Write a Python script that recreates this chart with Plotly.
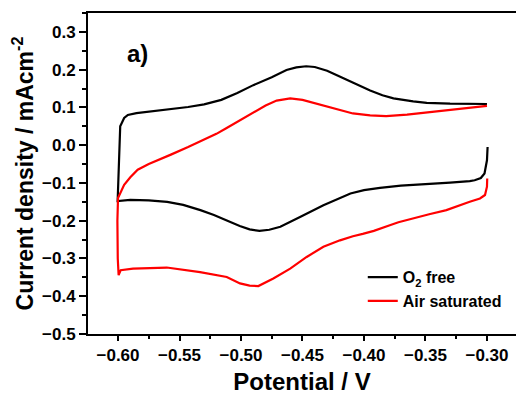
import plotly.graph_objects as go

# O2 free: cathodic branch (-0.30 -> -0.60) then anodic branch (-0.60 -> -0.30)
o2_lower_x = [-0.2995, -0.3000, -0.3020, -0.3050, -0.3100, -0.3140, -0.330, -0.350, -0.370, -0.387,
              -0.400, -0.411, -0.422, -0.433, -0.452, -0.468, -0.477, -0.485, -0.493, -0.501,
              -0.512, -0.522, -0.533, -0.547, -0.560, -0.575, -0.590, -0.600]
o2_lower_y = [-0.005, -0.040, -0.075, -0.087, -0.093, -0.095, -0.099, -0.103, -0.107, -0.113,
              -0.119, -0.128, -0.143, -0.159, -0.190, -0.216, -0.224, -0.227, -0.223, -0.214,
              -0.199, -0.185, -0.172, -0.158, -0.150, -0.146, -0.145, -0.146]
o2_upper_x = [-0.6003, -0.5998, -0.5992, -0.5982, -0.5950, -0.5920, -0.585, -0.576, -0.560, -0.543,
              -0.530, -0.516, -0.503, -0.490, -0.475, -0.463, -0.455, -0.447, -0.440, -0.430,
              -0.422, -0.410, -0.403, -0.395, -0.385, -0.376, -0.360, -0.349, -0.330, -0.300]
o2_upper_y = [-0.148, -0.100, -0.020, 0.050, 0.072, 0.080, 0.085, 0.088, 0.094, 0.101,
              0.108, 0.120, 0.138, 0.159, 0.180, 0.199, 0.206, 0.209, 0.207, 0.197,
              0.185, 0.167, 0.156, 0.145, 0.132, 0.124, 0.116, 0.112, 0.110, 0.109]

# Air saturated
air_lower_x = [-0.2998, -0.3000, -0.3016, -0.3057, -0.314, -0.323, -0.333, -0.347, -0.360, -0.372,
               -0.379, -0.387, -0.392, -0.401, -0.409, -0.4195, -0.433, -0.4466, -0.460, -0.4737,
               -0.4859, -0.493, -0.5008, -0.5116, -0.5333, -0.5604, -0.575, -0.5878, -0.5978, -0.5995,
               -0.6002, -0.6005, -0.6000]
air_lower_y = [-0.088, -0.110, -0.132, -0.141, -0.150, -0.160, -0.172, -0.183, -0.194, -0.204,
               -0.212, -0.221, -0.227, -0.235, -0.241, -0.252, -0.269, -0.296, -0.327, -0.353,
               -0.373, -0.372, -0.366, -0.349, -0.336, -0.324, -0.325, -0.327, -0.331, -0.344,
               -0.300, -0.200, -0.140]
air_upper_x = [-0.600, -0.598, -0.595, -0.590, -0.584, -0.575, -0.566, -0.557, -0.543, -0.530,
               -0.520, -0.512, -0.500, -0.490, -0.480, -0.471, -0.460, -0.450, -0.436, -0.420,
               -0.409, -0.395, -0.382, -0.365, -0.349, -0.330, -0.315, -0.300]
air_upper_y = [-0.140, -0.124, -0.105, -0.085, -0.065, -0.050, -0.038, -0.025, -0.005, 0.015,
               0.030, 0.045, 0.068, 0.088, 0.105, 0.118, 0.124, 0.120, 0.108, 0.095,
               0.084, 0.079, 0.077, 0.081, 0.087, 0.094, 0.099, 0.104]

series_names = ["O<sub>2</sub> free", "Air saturated"]
series_colors = ["#000000", "#ff0000"]

FONT = "Arial, Liberation Sans, sans-serif"

fig = go.Figure()
fig.add_trace(go.Scatter(x=o2_lower_x + o2_upper_x, y=o2_lower_y + o2_upper_y,
                         mode="lines", name=series_names[0],
                         line=dict(color=series_colors[0], width=2.2)))
fig.add_trace(go.Scatter(x=air_lower_x + air_upper_x, y=air_lower_y + air_upper_y,
                         mode="lines", name=series_names[1],
                         line=dict(color=series_colors[1], width=2.2)))

fig.add_annotation(text="a)", x=0.115, y=0.875, xref="paper", yref="paper",
                   showarrow=False, xanchor="center", yanchor="middle",
                   font=dict(family=FONT, size=24, color="black", weight="bold"))

fig.update_layout(
    width=516, height=395,
    margin=dict(l=88, r=0, t=13, b=61, autoexpand=False),
    plot_bgcolor="white", paper_bgcolor="white",
    font=dict(family=FONT, color="black"),
    showlegend=True,
    legend=dict(x=0.642, y=0.23, xanchor="left", yanchor="top",
                bgcolor="rgba(0,0,0,0)",
                font=dict(family=FONT, size=16, color="black", weight="bold")),
    xaxis=dict(range=[-0.6244, -0.2764], tick0=-0.60, dtick=0.05, tickformat=".2f",
               showgrid=False, zeroline=False, automargin=False,
               showline=True, linecolor="black", linewidth=2, mirror=True,
               ticks="outside", ticklen=5, tickwidth=1.5, tickcolor="black",
               minor=dict(dtick=0.025, ticks="outside", ticklen=3, tickwidth=1.5, tickcolor="black"),
               tickfont=dict(family=FONT, size=17, color="black", weight="bold"),
               title=dict(text="Potential / V", standoff=10,
                          font=dict(family=FONT, size=24, color="black", weight="bold"))),
    yaxis=dict(range=[-0.5, 0.35], tick0=-0.5, dtick=0.1, tickformat=".1f",
               showgrid=False, zeroline=False, automargin=False,
               showline=True, linecolor="black", linewidth=2, mirror=False,
               ticks="outside", ticklen=7, tickwidth=1.5, tickcolor="black",
               minor=dict(dtick=0.05, ticks="outside", ticklen=4, tickwidth=1.5, tickcolor="black"),
               tickfont=dict(family=FONT, size=17, color="black", weight="bold"),
               title=dict(text="Current density / mAcm<sup>-2</sup>", standoff=2,
                          font=dict(family=FONT, size=23, color="black", weight="bold"))),
)

fig.write_html("out.html", config={"displayModeBar": False},
               post_script="document.body.style.margin='0';")
